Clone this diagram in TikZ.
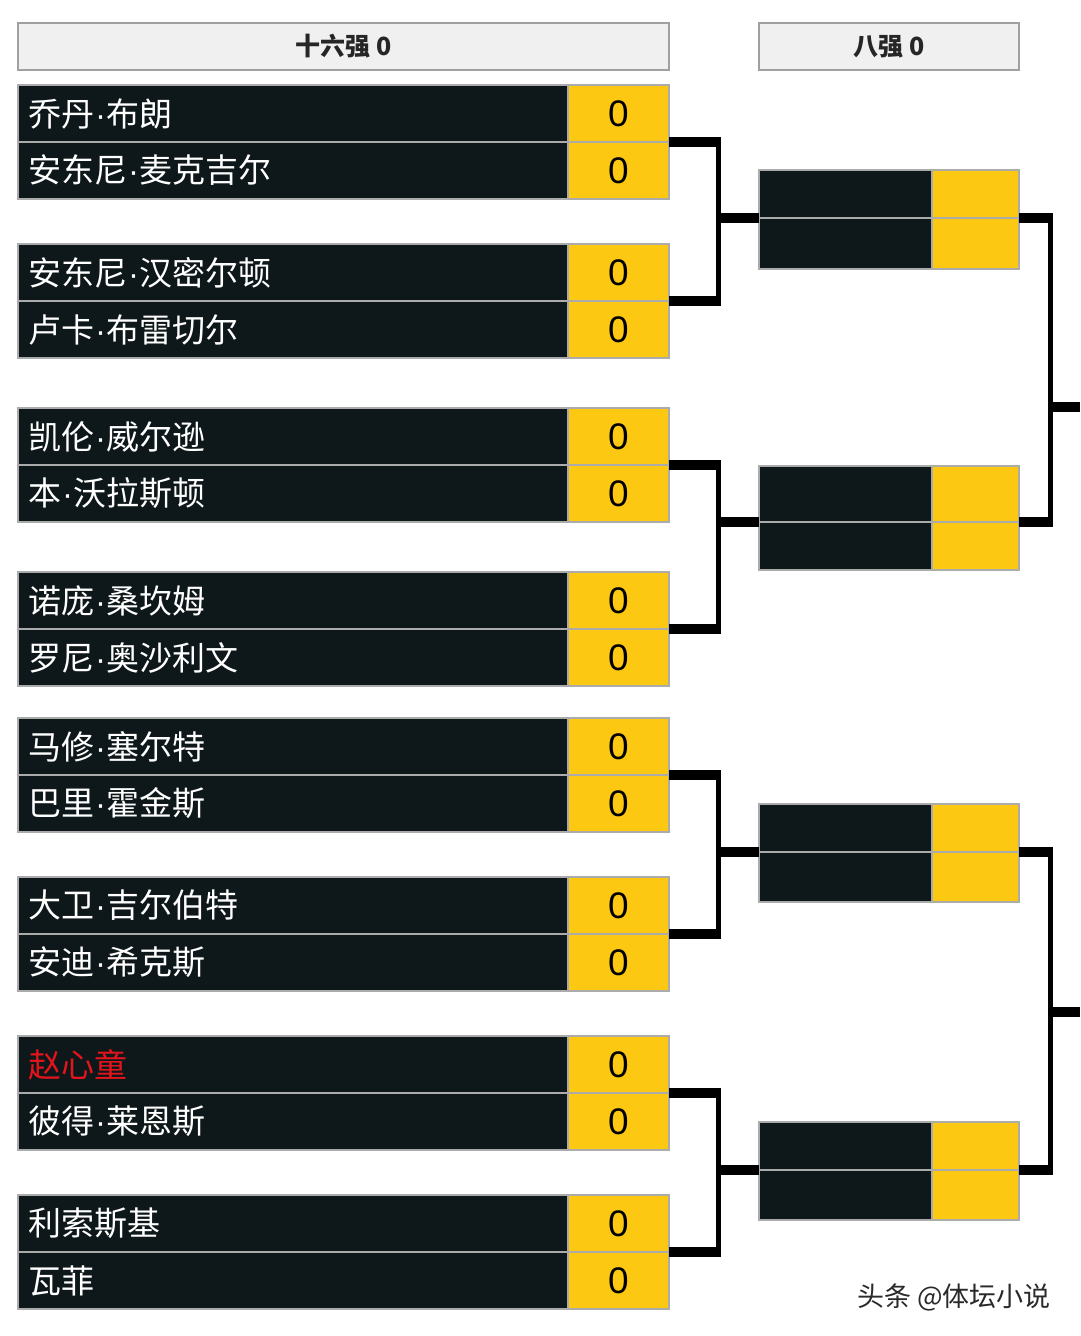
\documentclass[tikz,border=0pt]{standalone}
\usepackage{fontspec}
\setmainfont{Liberation Sans}
\newfontfamily\cjk{Noto Sans CJK SC}
\newfontfamily\latinf{Liberation Sans}
\newcommand\pdot{{\latinf\hspace{1pt}·\hspace{1pt}}}
\definecolor{darkbg}{HTML}{0E1719}
\definecolor{gold}{HTML}{FDC812}
\definecolor{bordergray}{HTML}{ABABAB}
\definecolor{headbg}{HTML}{F0F0F0}
\definecolor{headborder}{HTML}{A0A0A0}
\definecolor{redname}{HTML}{E3151C}
\definecolor{wmgray}{HTML}{2A2A2A}
\begin{document}
\begin{tikzpicture}[x=1pt,y=-1pt,
  every node/.style={outer sep=0pt},
  namebox/.style={draw=bordergray, line width=2.5pt, fill=darkbg, anchor=north west,
    minimum width=550pt, minimum height=57pt, text width=530pt, inner xsep=10pt, inner ysep=0pt,
    align=left, text=white, font=\cjk\fontsize{33}{33}\selectfont},
  scorebox/.style={draw=bordergray, line width=2pt, fill=gold, anchor=north west,
    minimum width=101pt, minimum height=57pt, inner sep=0pt, text=black,
    font=\fontsize{37}{37}\selectfont},
  qname/.style={draw=bordergray, line width=2.5pt, fill=darkbg, anchor=north west,
    minimum width=173pt, inner sep=0pt},
  qscore/.style={draw=bordergray, line width=2pt, fill=gold, anchor=north west,
    minimum width=87pt, inner sep=0pt},
  headbox/.style={draw=headborder, line width=2pt, fill=headbg, anchor=north west,
    minimum height=47pt, inner sep=0pt, font=\cjk\bfseries\fontsize{25}{25}\selectfont, text=black!85},
  hline/.style={line width=10pt, black},
  vline/.style={line width=5pt, black}
]
\useasboundingbox[fill=white] (0,0) rectangle (1080,1336);

% headers
\node[headbox, minimum width=651pt] (h16) at (18,23) {十六强 0};
\node[headbox, minimum width=260pt] (h8) at (759,23) {八强 0};

% round of 16
\node[namebox] (n1) at (18,85) {乔丹\pdot 布朗};
\node[namebox] (n2) at (n1.south west) {安东尼\pdot 麦克吉尔};
\node[namebox] (n3) at (18,244) {安东尼\pdot 汉密尔顿};
\node[namebox] (n4) at (n3.south west) {卢卡\pdot 布雷切尔};
\node[namebox] (n5) at (18,408) {凯伦\pdot 威尔逊};
\node[namebox] (n6) at (n5.south west) {本\pdot 沃拉斯顿};
\node[namebox] (n7) at (18,572) {诺庞\pdot 桑坎姆};
\node[namebox] (n8) at (n7.south west) {罗尼\pdot 奥沙利文};
\node[namebox] (n9) at (18,718) {马修\pdot 塞尔特};
\node[namebox] (n10) at (n9.south west) {巴里\pdot 霍金斯};
\node[namebox] (n11) at (18,877) {大卫\pdot 吉尔伯特};
\node[namebox] (n12) at (n11.south west) {安迪\pdot 希克斯};
\node[namebox, text=redname] (n13) at (18,1036) {赵心童};
\node[namebox] (n14) at (n13.south west) {彼得\pdot 莱恩斯};
\node[namebox] (n15) at (18,1195) {利索斯基};
\node[namebox] (n16) at (n15.south west) {瓦菲};
\foreach \i in {1,...,16}{
  \node[scorebox] (s\i) at (n\i.north east) {0};
}

% quarter finals
\node[qname, minimum height=48pt] (qa1) at (759,170) {};
\node[qname, minimum height=51pt] (qb1) at (qa1.south west) {};
\node[qname, minimum height=56pt] (qa2) at (759,466) {};
\node[qname, minimum height=48pt] (qb2) at (qa2.south west) {};
\node[qname, minimum height=48pt] (qa3) at (759,804) {};
\node[qname, minimum height=50pt] (qb3) at (qa3.south west) {};
\node[qname, minimum height=48pt] (qa4) at (759,1122) {};
\node[qname, minimum height=50pt] (qb4) at (qa4.south west) {};
\node[qscore, minimum height=48pt] (qsa1) at (qa1.north east) {};
\node[qscore, minimum height=51pt] (qsb1) at (qb1.north east) {};
\node[qscore, minimum height=56pt] (qsa2) at (qa2.north east) {};
\node[qscore, minimum height=48pt] (qsb2) at (qb2.north east) {};
\node[qscore, minimum height=48pt] (qsa3) at (qa3.north east) {};
\node[qscore, minimum height=50pt] (qsb3) at (qb3.north east) {};
\node[qscore, minimum height=48pt] (qsa4) at (qa4.north east) {};
\node[qscore, minimum height=50pt] (qsb4) at (qb4.north east) {};

% reference x positions of the bracket lines
\coordinate (LE) at (721,0);
\coordinate (LV) at (718.5,0);
\coordinate (LS) at (716,0);
\coordinate (RE) at (1053,0);
\coordinate (RV) at (1050.5,0);
\coordinate (RS) at (1048,0);
\coordinate (o1) at (1080,407);
\coordinate (o2) at (1080,1012);

% left brackets
\foreach \a/\b/\q in {1/3/1, 5/7/2, 9/11/3, 13/15/4}{
  \draw[hline] (s\a.south east) -- (s\a.south east -| LE);
  \draw[hline] (s\b.south east) -- (s\b.south east -| LE);
  \draw[vline] (s\a.south east -| LV) -- (s\b.south east -| LV);
  \draw[hline] (qa\q.south west) -- (qa\q.south west -| LS);
}

% right brackets
\foreach \a/\b/\o in {1/2/o1, 3/4/o2}{
  \draw[hline] (qsa\a.south east) -- (qsa\a.south east -| RE);
  \draw[hline] (qsa\b.south east) -- (qsa\b.south east -| RE);
  \draw[vline] (qsa\a.south east -| RV) -- (qsa\b.south east -| RV);
  \draw[hline] (\o -| RS) -- (\o);
}

% watermark
\node[anchor=west, inner sep=0pt, text=wmgray, font=\cjk\fontsize{27}{27}\selectfont] (wm) at (857,1297) {头条 @体坛小说};
\end{tikzpicture}
\end{document}
